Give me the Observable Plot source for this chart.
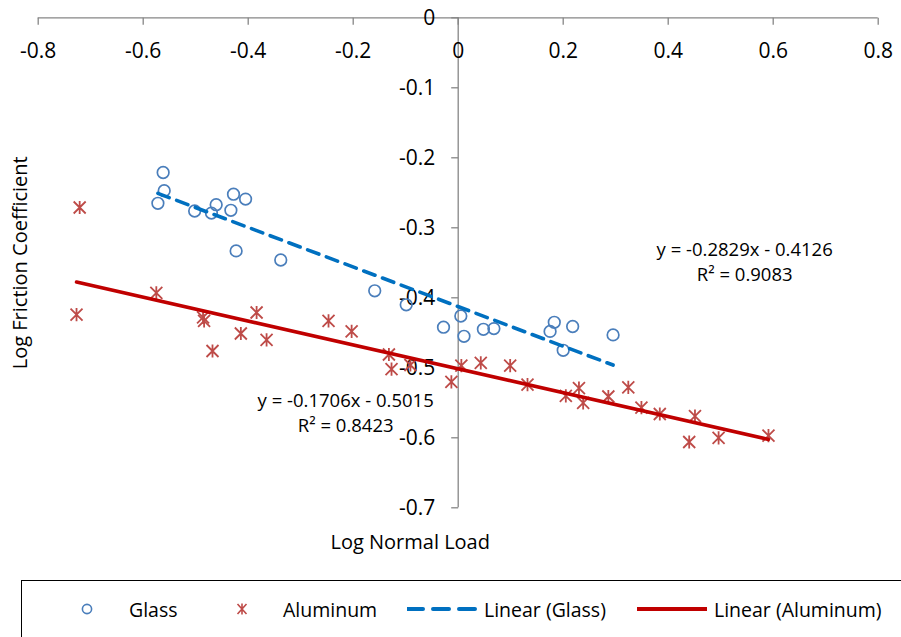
<!DOCTYPE html>
<html>
<head>
<meta charset="utf-8">
<script src="https://cdn.jsdelivr.net/npm/d3@7"></script>
<script src="https://cdn.jsdelivr.net/npm/@observablehq/plot@0.6"></script>
<style>
  html, body { margin: 0; padding: 0; background: #fff; overflow: hidden; }
  body { width: 901px; height: 637px; position: relative; font-family: 'Open Sans', sans-serif; }
  #chart svg { display: block; }
  .legend { position: absolute; left: 21px; top: 580px; width: 900px; height: 80px; border: 1px solid #000; box-sizing: border-box; }
  .legend .item { position: absolute; top: 0; height: 56px; display: flex; align-items: center; font-size: 19.5px; color: #000; white-space: nowrap; }
  .legend svg { display: block; }
</style>
</head>
<body>
<div id="chart"></div>
<div class="legend" id="legend"></div>
<script>
// ---- data ----
const glassX = [-0.562, -0.560, -0.572, -0.502, -0.470, -0.461, -0.428, -0.405, -0.433, -0.423, -0.338, -0.159, -0.099, -0.028, 0.005, 0.011, 0.048, 0.068, 0.175, 0.183, 0.218, 0.200, 0.295];
const glassY = [-0.221, -0.247, -0.265, -0.276, -0.279, -0.267, -0.252, -0.259, -0.275, -0.333, -0.346, -0.390, -0.410, -0.442, -0.426, -0.455, -0.445, -0.444, -0.448, -0.435, -0.441, -0.475, -0.453];

const aluX = [-0.721, -0.727, -0.575, -0.486, -0.484, -0.468, -0.414, -0.384, -0.365, -0.247, -0.203, -0.132, -0.127, -0.091, -0.013, 0.006, 0.043, 0.099, 0.132, 0.205, 0.230, 0.238, 0.286, 0.324, 0.349, 0.384, 0.451, 0.440, 0.496, 0.591];
const aluY = [-0.271, -0.424, -0.393, -0.428, -0.433, -0.476, -0.451, -0.421, -0.460, -0.433, -0.448, -0.481, -0.502, -0.496, -0.520, -0.497, -0.493, -0.497, -0.524, -0.540, -0.529, -0.550, -0.541, -0.528, -0.557, -0.566, -0.569, -0.606, -0.600, -0.597];

const seriesNames = ["Glass", "Aluminum"];
const trendSlope = [-0.2829, -0.1706];
const trendIntercept = [-0.4126, -0.5015];
const trendR2 = [0.9083, 0.8423];

const xTicks = [-0.8, -0.6, -0.4, -0.2, 0, 0.2, 0.4, 0.6, 0.8];
const yTicks = [0, -0.1, -0.2, -0.3, -0.4, -0.5, -0.6, -0.7];

const xTitle = "Log Normal Load";
const yTitle = "Log Friction Coefficient";

// ---- derived tables ----
const glass = glassX.map((x, i) => ({x, y: glassY[i]}));
const alu = aluX.map((x, i) => ({x, y: aluY[i]}));
const trend = (xs, k) => d3.extent(xs).map(x => ({x, y: trendSlope[k] * x + trendIntercept[k]}));
const glassTrend = trend(glassX, 0);
const aluTrend = trend(aluX, 1);
const eqText = k => `y = ${trendSlope[k]}x - ${-trendIntercept[k]}\nR² = ${trendR2[k]}`;

// ---- styles ----
const axisColor = "#868686";
const glassColor = "#4a7ebb";
const aluColor = "#be4b48";
const glassLine = "#0070c0";
const aluLine = "#c00000";

const tickDown = {draw(ctx) { ctx.moveTo(0, 0); ctx.lineTo(0, 7); }};
const tickLeft = {draw(ctx) { ctx.moveTo(0, 0); ctx.lineTo(-7, 0); }};
const star = {draw(ctx, size) {
  const r = Math.sqrt(size / Math.PI);
  ctx.moveTo(-r, -r); ctx.lineTo(r, r);
  ctx.moveTo(-r, r); ctx.lineTo(r, -r);
  ctx.moveTo(0, -r * 1.1); ctx.lineTo(0, r * 1.1);
}};

const chart = Plot.plot({
  width: 901,
  height: 580,
  marginLeft: 37.7,
  marginRight: 23.3,
  marginTop: 17.3,
  marginBottom: 72.7,
  x: {domain: [-0.8, 0.8], axis: null},
  y: {domain: [-0.7, 0], axis: null},
  style: {fontFamily: "'Open Sans', sans-serif", background: "#fff", overflow: "visible", color: "#000"},
  marks: [
    Plot.ruleY([0], {stroke: axisColor, strokeWidth: 1.3}),
    Plot.ruleX([0], {stroke: axisColor, strokeWidth: 1.3}),
    Plot.dot(xTicks, {x: d => d, y: () => 0, symbol: tickDown, r: 3, fill: "none", stroke: axisColor, strokeWidth: 1.3}),
    Plot.dot(yTicks, {x: () => 0, y: d => d, symbol: tickLeft, r: 3, fill: "none", stroke: axisColor, strokeWidth: 1.3}),
    Plot.text(xTicks, {x: d => d, y: () => 0, text: d => String(d), dy: 33, fontSize: 21, fill: "#000"}),
    Plot.text(yTicks, {x: () => 0, y: d => d, text: d => String(d), dx: -23, textAnchor: "end", fontSize: 21, fill: "#000"}),
    Plot.text([yTitle], {frameAnchor: "left", dx: -18, rotate: -90, textAnchor: "middle", lineAnchor: "middle", fontSize: 20, fill: "#000"}),
    Plot.text([xTitle], {frameAnchor: "bottom", dx: -48, dy: 35, textAnchor: "middle", lineAnchor: "middle", fontSize: 20, fill: "#000"}),
    Plot.dot(glass, {x: "x", y: "y", r: 5.8, symbol: "circle", fill: "none", stroke: glassColor, strokeWidth: 1.7}),
    Plot.dot(alu, {x: "x", y: "y", r: 6, symbol: star, fill: "none", stroke: aluColor, strokeWidth: 1.8}),
    Plot.line(glassTrend, {x: "x", y: "y", stroke: glassLine, strokeWidth: 3.6, strokeDasharray: "12,8"}),
    Plot.line(aluTrend, {x: "x", y: "y", stroke: aluLine, strokeWidth: 3.6}),
    Plot.text([eqText(0)], {x: () => 0.5457, y: () => -0.3474, textAnchor: "middle", lineAnchor: "middle", lineHeight: 1.35, fontSize: 18.5, fill: "#000"}),
    Plot.text([eqText(1)], {x: () => -0.2143, y: () => -0.5624, textAnchor: "middle", lineAnchor: "middle", lineHeight: 1.35, fontSize: 18.5, fill: "#000"})
  ]
});
document.getElementById("chart").appendChild(chart);

// ---- legend ----
const legend = document.getElementById("legend");
const ns = "http://www.w3.org/2000/svg";
function addItem(left, svgInner, w, label, textGap) {
  const item = document.createElement("div");
  item.className = "item";
  item.style.left = left + "px";
  const s = document.createElementNS(ns, "svg");
  s.setAttribute("width", w);
  s.setAttribute("height", 16);
  s.innerHTML = svgInner;
  item.appendChild(s);
  const t = document.createElement("span");
  t.textContent = label;
  t.style.marginLeft = textGap + "px";
  item.appendChild(t);
  legend.appendChild(item);
}
addItem(59, `<circle cx="6" cy="8" r="4.6" fill="none" stroke="${glassColor}" stroke-width="1.6"/>`, 12, seriesNames[0], 36);
addItem(214, `<path d="M1.5,3L10.5,13M1.5,13L10.5,3M6,2.5L6,13.5" fill="none" stroke="${aluColor}" stroke-width="1.6"/>`, 12, seriesNames[1], 35);
addItem(385, `<line x1="0" y1="8" x2="70" y2="8" stroke="${glassLine}" stroke-width="4" stroke-dasharray="16,10" stroke-linecap="round"/>`, 70, `Linear (${seriesNames[0]})`, 7);
addItem(615, `<line x1="0" y1="8" x2="70" y2="8" stroke="${aluLine}" stroke-width="4"/>`, 70, `Linear (${seriesNames[1]})`, 7);
</script>
</body>
</html>
